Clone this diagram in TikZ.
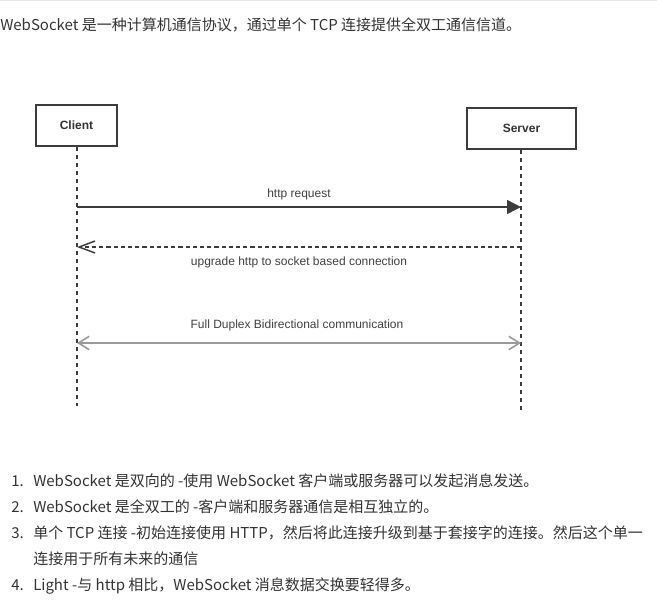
\documentclass[tikz,border=0pt]{standalone}
\usepackage{fontspec}
\setmainfont{Noto Sans CJK SC}
\newfontfamily\diafont{Liberation Sans}
\usetikzlibrary{arrows.meta}
\definecolor{txtgray}{HTML}{333333}
\definecolor{linegray}{HTML}{3C3C3C}
\definecolor{duplexgray}{HTML}{9A9A9A}
\begin{document}
\begin{tikzpicture}[x=0.75pt, y=-0.75pt]
\tikzstyle{boxStyle}=[shape = rectangle, draw=linegray, line width=1.1pt, fill=white,
inner sep = 0pt, minimum height = 30.75pt, font=\diafont\bfseries\fontsize{9}{10}\selectfont, text=black!80]
\tikzstyle{lblStyle}=[anchor = base, inner sep = 0pt, font=\diafont\fontsize{9}{10}\selectfont, text=black!75]
\tikzstyle{txtStyle}=[anchor = base west, inner sep = 0pt, font=\fontsize{11.25}{13}\selectfont, text=txtgray]
\tikzstyle{lifeStyle}=[draw=linegray, line width=1.1pt, dash pattern=on 3pt off 3pt]
\useasboundingbox (0,0) rectangle (657,601);
\draw[black!10, line width=1pt] (0,0.7) -- (657,0.7);

\node[txtStyle] (title) at (0,30.5) {WebSocket 是一种计算机通信协议，通过单个 TCP 连接提供全双工通信信道。};

\node[boxStyle, minimum width = 60.75pt] (client) at (76.5,125.5) {Client};
\node[boxStyle, minimum width = 81.75pt] (server) at (521.5,128.5) {Server};
\coordinate (cEnd) at (77,406);
\coordinate (sEnd) at (521,410);
\draw[lifeStyle] (client.south -| cEnd) -- (cEnd);
\draw[lifeStyle] (server.south -| sEnd) -- (sEnd);

\foreach \k/\y in {1/207,2/247,3/343}
{
	\coordinate (c\k) at (77,\y);
	\coordinate (s\k) at (521,\y);
}

\draw[linegray, line width=1.1pt, -{Triangle[length=10.5pt, width=10.5pt]}] (c1) -- (s1);
\draw[linegray, line width=1.1pt, dash pattern=on 3.2pt off 2.2pt, -{Straight Barb[length=12pt, width=9pt]}] (s2) -- (c2);
\draw[duplexgray, line width=1.2pt, {Straight Barb[length=8pt, width=10pt]}-{Straight Barb[length=8pt, width=10pt]}] (c3) -- (s3);

\node[lblStyle] (req) at (299,197) {http request};
\node[lblStyle] (upg) at (299,265) {upgrade http to socket based connection};
\node[lblStyle] (dup) at (297,328) {Full Duplex Bidirectional communication};

\foreach \n/\y/\t in {1/486.5/{WebSocket 是双向的 -使用 WebSocket 客户端或服务器可以发起消息发送。},
	2/512.5/{WebSocket 是全双工的 -客户端和服务器通信是相互独立的。},
	3/538.5/{单个 TCP 连接 -初始连接使用 HTTP，然后将此连接升级到基于套接字的连接。然后这个单一},
	4/590.5/{Light -与 http 相比，WebSocket 消息数据交换要轻得多。}}
{
	\node[txtStyle] (num\n) at (11,\y) {\n.};
	\node[txtStyle] (item\n) at (33,\y) {\t};
}
\node[txtStyle] (item3b) at (33,564.5) {连接用于所有未来的通信};
\end{tikzpicture}
\end{document}
